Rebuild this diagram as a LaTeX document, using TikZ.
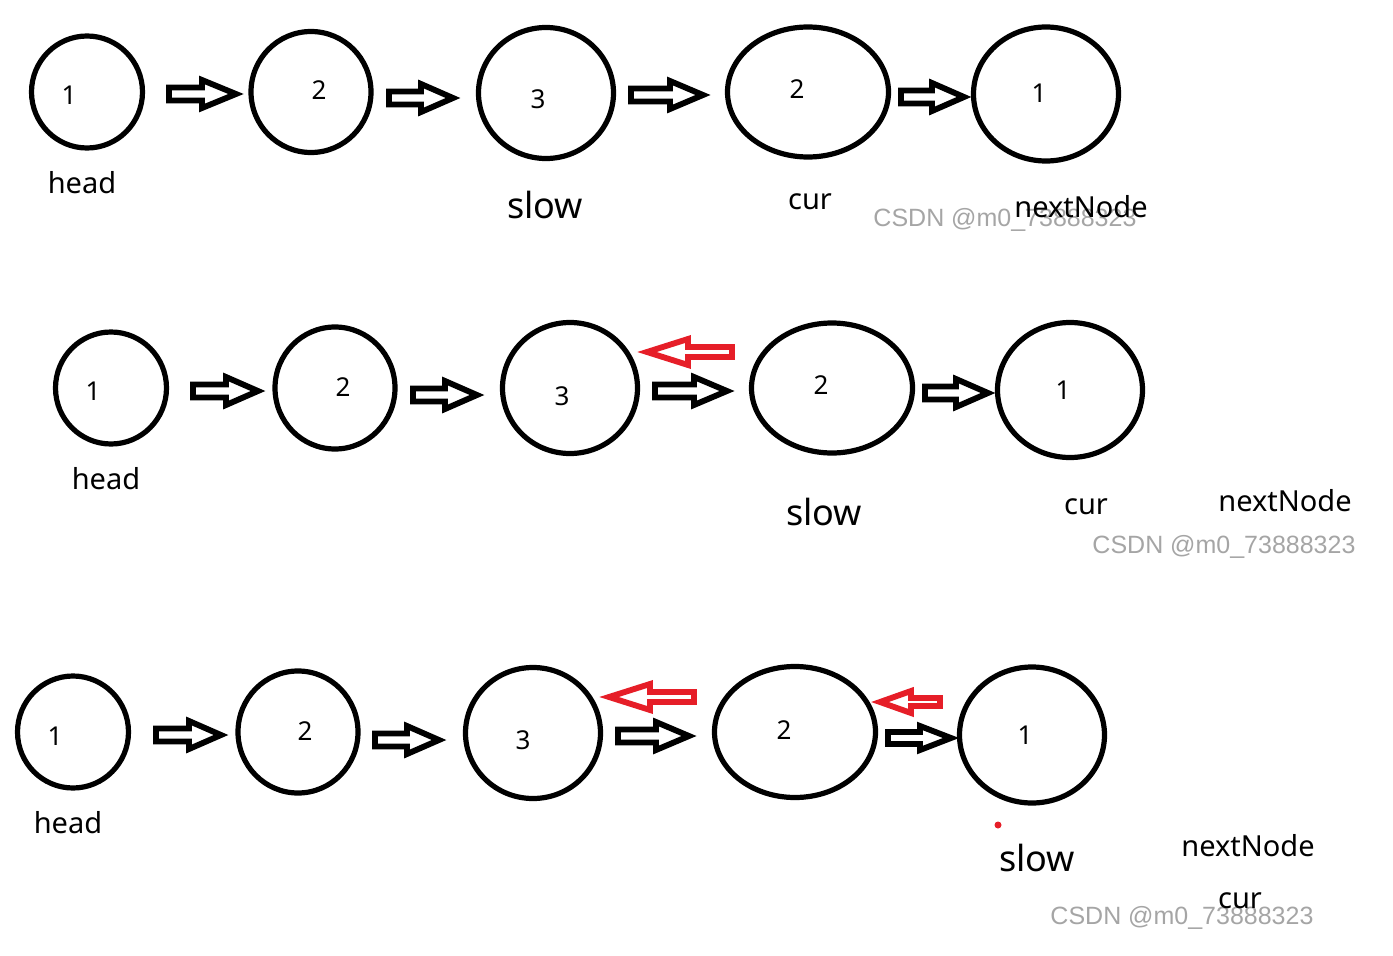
\documentclass[tikz,border=0pt]{standalone}
\usepackage{fontspec}
\setmainfont{Noto Sans}
\newfontfamily\wmfont{Liberation Sans}
\usetikzlibrary{shapes.geometric}
\definecolor{arrred}{RGB}{230,30,40}
\definecolor{wmgray}{RGB}{165,165,165}
\tikzset{
  ring/.style 2 args={draw=black, line width=3.9pt, ellipse, inner sep=0pt,
    minimum width={(#1-5)*0.75pt}, minimum height={(#2-5)*0.75pt}},
  num/.style={font=\fontsize{19.5}{20}\selectfont, inner sep=0pt},
  lbl/.style={font=\fontsize{21.75}{22}\selectfont, inner sep=0pt},
  slowlbl/.style={font=\fontsize{27}{28}\selectfont, inner sep=0pt},
  wm/.style={font=\wmfont\fontsize{18.75}{19}\selectfont, text=wmgray, inner sep=0pt},
  arr/.style={line width=4.4pt, line join=miter, fill=white},
}
% x1, xh, tip, y, half shaft, half head, colour
\newcommand\barrow[7]{%
  \draw[arr, draw=#7] (#1,{#4-#5}) -- (#2,{#4-#5}) -- (#2,{#4-#6}) -- (#3,#4) -- (#2,{#4+#6}) -- (#2,{#4+#5}) -- (#1,{#4+#5}) -- cycle;}
\begin{document}
\begin{tikzpicture}[x=0.75pt, y=-0.75pt]
\useasboundingbox (0,0) rectangle (1393,956);
% ---------- row 1 ----------
\node[ring={116}{117}] (a1) at (87,92) {};
\node[ring={125}{126}] (a2) at (311,92) {};
\node[ring={140}{136}] (a3) at (546,93) {};
\node[ring={166}{135}] (a4) at (808,92) {};
\node[ring={150}{139}] (a5) at (1046,94) {};
\node[num] (na1) at (69,95) {1};
\node[num] (na2) at (319,90) {2};
\node[num] (na3) at (538,99) {3};
\node[num] (na4) at (797,89) {2};
\node[num] (na5) at (1039,93) {1};
\barrow{169}{202}{236}{94}{6.5}{14}{black}
\barrow{389}{421}{453}{98}{6.5}{14}{black}
\barrow{631}{670}{703}{95}{6.5}{14}{black}
\barrow{901}{932}{964}{97}{6.5}{14}{black}
\node[lbl] (ha) at (82,183) {head};
\node[slowlbl] (sa) at (545,205) {slow};
\node[lbl] (ca) at (810,202) {cur};
\node[wm] (wa) at (1005,220) {CSDN @m0\_73888323};
\node[lbl] (xa) at (1081,207) {nextNode};
% ---------- row 2 ----------
\node[ring={116}{117}] (b1) at (111,388) {};
\node[ring={125}{127}] (b2) at (335,388) {};
\node[ring={140}{136}] (b3) at (570,388) {};
\node[ring={166}{135}] (b4) at (832,388) {};
\node[ring={150}{140}] (b5) at (1070,390) {};
\node[num] (nb1) at (93,391) {1};
\node[num] (nb2) at (343,387) {2};
\node[num] (nb3) at (562,396) {3};
\node[num] (nb4) at (821,385) {2};
\node[num] (nb5) at (1063,390) {1};
\barrow{193}{226}{258}{391}{6.5}{14}{black}
\barrow{413}{445}{477}{395}{6.5}{14}{black}
\barrow{655}{694}{727}{391}{6.5}{14}{black}
\barrow{925}{956}{988}{393}{6.5}{14}{black}
\barrow{732}{688}{647}{352}{5}{13}{arrred}
\node[lbl] (hb) at (106,479) {head};
\node[slowlbl] (sb) at (824,512) {slow};
\node[lbl] (cb) at (1086,507) {cur};
\node[lbl] (xb) at (1285,501) {nextNode};
\node[wm] (wb) at (1224,547) {CSDN @m0\_73888323};
% ---------- row 3 ----------
\node[ring={116}{117}] (c1) at (73,732) {};
\node[ring={125}{127}] (c2) at (298,732) {};
\node[ring={140}{136}] (c3) at (533,733) {};
\node[ring={166}{136}] (c4) at (795,732) {};
\node[ring={150}{141}] (c5) at (1032,735) {};
\node[num] (nc1) at (55,736) {1};
\node[num] (nc2) at (305,731) {2};
\node[num] (nc3) at (523,740) {3};
\node[num] (nc4) at (784,730) {2};
\node[num] (nc5) at (1025,735) {1};
\barrow{156}{189}{221}{735}{6.5}{14}{black}
\barrow{375}{407}{439}{740}{6.5}{14}{black}
\barrow{618}{656}{689}{736}{6.5}{14}{black}
\barrow{888}{920}{951}{738}{6}{12}{black}
\barrow{694}{650}{609}{697}{5}{13}{arrred}
\barrow{940}{911}{880}{702}{4}{11}{arrred}
\node[lbl] (hc) at (68,823) {head};
\fill[arrred] (998,825) circle (3.5);
\node[slowlbl] (sc) at (1037,858) {slow};
\node[lbl] (xc) at (1248,846) {nextNode};
\node[wm] (wc) at (1182,918) {CSDN @m0\_73888323};
\node[lbl] (cc) at (1240,901) {cur};
\end{tikzpicture}
\end{document}
